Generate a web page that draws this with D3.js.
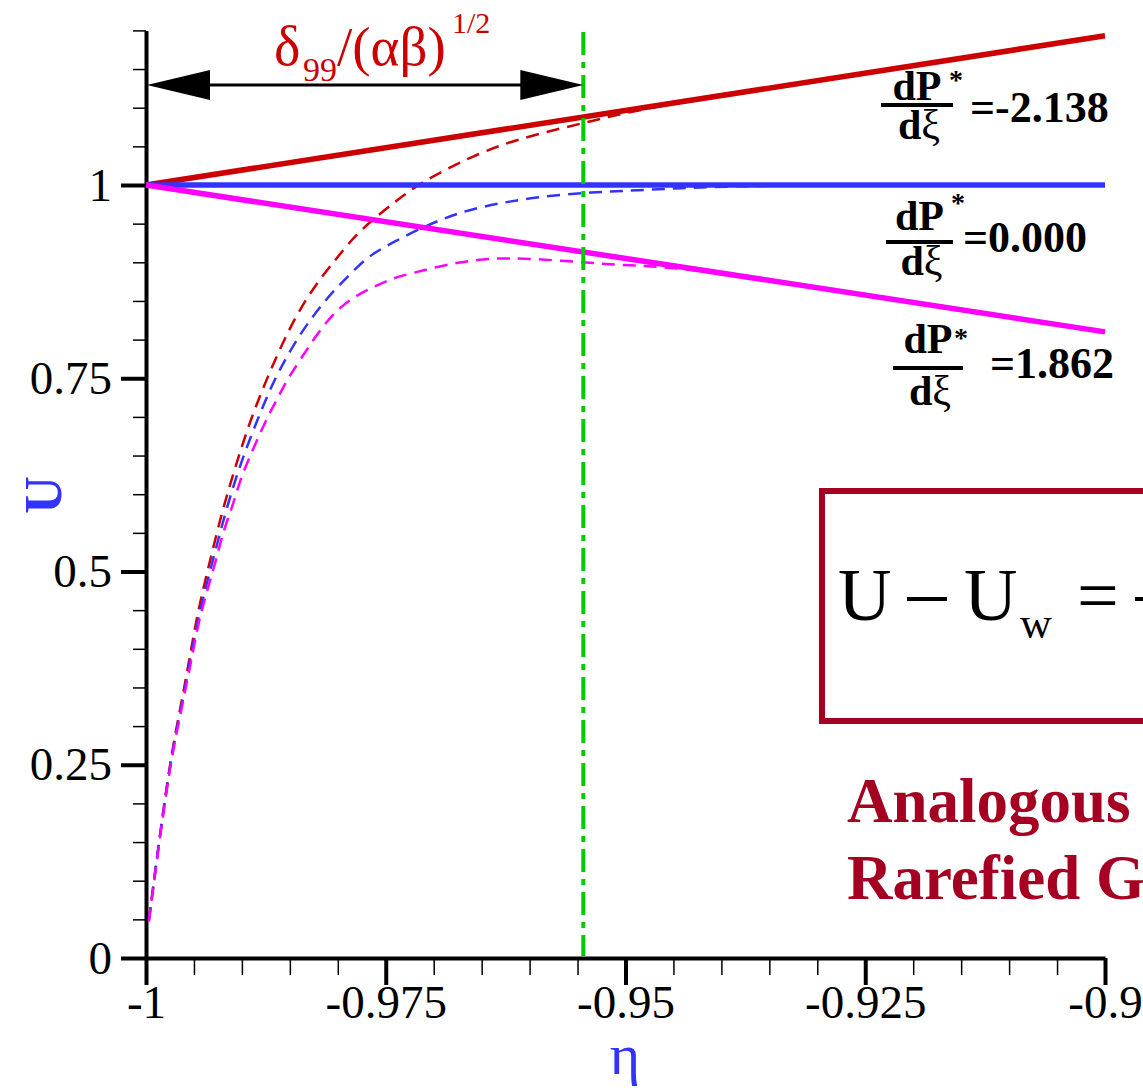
<!DOCTYPE html>
<html>
<head>
<meta charset="utf-8">
<script src="https://cdnjs.cloudflare.com/ajax/libs/d3/7.8.5/d3.min.js"></script>
<style>
  body { margin: 0; background: #fff; }
  svg { display: block; font-family: "Liberation Serif", "Times New Roman", serif; }
</style>
</head>
<body>
<script>
// Tick values and labels
const xMajorTicks = [-1, -0.975, -0.95, -0.925, -0.9];
const xTickLabels = ["-1", "-0.975", "-0.95", "-0.925", "-0.9"];
const yMajorTicks = [0, 0.25, 0.5, 0.75, 1];
const yTickLabels = ["0", "0.25", "0.5", "0.75", "1"];

// Outer (solid) lines, U at the two ends of eta
const etaEnds = [-1, -0.9];
const uOuterRed = [1, 1.193];
const uOuterBlue = [1, 1];
const uOuterMagenta = [1, 0.81];

// Boundary layer profiles (dashed)
const etaRed = [-0.9997, -0.9976, -0.9963, -0.9954, -0.9945, -0.9933, -0.9921, -0.9907, -0.9892, -0.9874,
  -0.9853, -0.9836, -0.9817, -0.98, -0.978, -0.9749, -0.9728, -0.9711, -0.9686, -0.9661,
  -0.963, -0.9589, -0.9544, -0.9506, -0.9443, -0.937, -0.92, -0.9];
const uRed = [0.049, 0.25, 0.33, 0.392, 0.454, 0.515, 0.576, 0.635, 0.693, 0.75,
  0.808, 0.847, 0.881, 0.907, 0.938, 0.97, 0.99, 1.004, 1.021, 1.036,
  1.052, 1.067, 1.08, 1.092, 1.107, 1.122, 1.1545, 1.193];

const etaBlue = [-0.9997, -0.9976, -0.9962, -0.9954, -0.9944, -0.9931, -0.9918, -0.9904, -0.9886, -0.9866,
  -0.9843, -0.9829, -0.9813, -0.9798, -0.978, -0.9763, -0.9742, -0.9717, -0.9693, -0.9673,
  -0.9649, -0.9624, -0.9589, -0.9544, -0.9506, -0.9443, -0.937, -0.9266, -0.9];
const uBlue = [0.049, 0.25, 0.33, 0.386, 0.45, 0.511, 0.573, 0.631, 0.69, 0.75,
  0.8, 0.825, 0.851, 0.871, 0.894, 0.912, 0.926, 0.942, 0.955, 0.964,
  0.972, 0.978, 0.985, 0.99, 0.992, 0.996, 0.999, 1, 1];

const etaMagenta = [-0.9997, -0.9976, -0.9963, -0.9957, -0.9952, -0.9947, -0.994, -0.9933, -0.9926, -0.9919,
  -0.991, -0.9902, -0.9892, -0.9881, -0.9872, -0.9862, -0.9852, -0.9839, -0.9824, -0.9805,
  -0.9784, -0.9763, -0.9742, -0.9722, -0.9697, -0.9673, -0.9649, -0.9624, -0.9589, -0.9544,
  -0.9506, -0.944, -0.935, -0.9];
const uMagenta = [0.047, 0.246, 0.321, 0.36, 0.389, 0.424, 0.459, 0.489, 0.519, 0.554,
  0.583, 0.618, 0.648, 0.679, 0.703, 0.726, 0.75, 0.774, 0.803, 0.834,
  0.855, 0.868, 0.88, 0.886, 0.894, 0.9, 0.904, 0.9056, 0.904, 0.9,
  0.8965, 0.893, 0.8765, 0.81];

// Boundary layer thickness (green line)
const etaDelta = -0.9544;
const gradLabels = ["=-2.138", "=0.000", "=1.862"];

const RED = "#cc0000", BLUE = "#3333ff", MAGENTA = "#ff00ff", GREEN = "#00cc00", BOX = "#a50021";
const SERIF = "Liberation Serif, Times New Roman, serif";

const svg = d3.select("body").append("svg")
  .attr("width", 1143)
  .attr("height", 1091);

const x = d3.scaleLinear().domain([-1, -0.9]).range([146, 1105]);
const y = d3.scaleLinear().domain([0, 1.2]).range([958, 30.4]);

// Minor ticks
svg.append("g")
  .attr("transform", `translate(0,${y(0)})`)
  .call(d3.axisBottom(x).tickValues(d3.range(21).map(i => -1 + i * 0.005)).tickSize(17).tickFormat(""))
  .call(g => g.select(".domain").remove())
  .selectAll("line").attr("stroke-width", 1.5);

svg.append("g")
  .attr("transform", `translate(${x(-1)},0)`)
  .call(d3.axisLeft(y).tickValues(d3.range(25).map(i => i * 0.05)).tickSize(13).tickFormat(""))
  .call(g => g.select(".domain").remove())
  .selectAll("line").attr("stroke-width", 1.5);

// Major axes
const xAxis = svg.append("g")
  .attr("transform", `translate(0,${y(0)})`)
  .call(d3.axisBottom(x).tickValues(xMajorTicks).tickSize(27).tickSizeOuter(0).tickPadding(0)
    .tickFormat((d, i) => xTickLabels[i]));
xAxis.attr("font-size", 47).attr("font-family", SERIF);
xAxis.select(".domain").attr("stroke-width", 4);
xAxis.selectAll(".tick line").attr("stroke-width", 4);

const yAxis = svg.append("g")
  .attr("transform", `translate(${x(-1)},0)`)
  .call(d3.axisLeft(y).tickValues(yMajorTicks).tickSize(25).tickSizeOuter(0).tickPadding(9)
    .tickFormat((d, i) => yTickLabels[i]));
yAxis.attr("font-size", 47).attr("font-family", SERIF);
yAxis.select(".domain").attr("stroke-width", 4);
yAxis.selectAll(".tick line").attr("stroke-width", 4);

// Axis titles
svg.append("text")
  .attr("transform", "translate(61,495) rotate(-90)")
  .attr("text-anchor", "middle")
  .attr("font-size", 52).attr("font-weight", "bold")
  .attr("fill", BLUE)
  .text("U");

svg.append("text")
  .attr("x", 625).attr("y", 1074)
  .attr("text-anchor", "middle")
  .attr("font-size", 58)
  .attr("fill", BLUE)
  .text("η");

// Lines
const line = d3.line()
  .x(d => x(d[0]))
  .y(d => y(d[1]))
  .curve(d3.curveBasis);

const dashed = [
  { eta: etaRed, u: uRed, color: RED },
  { eta: etaBlue, u: uBlue, color: BLUE },
  { eta: etaMagenta, u: uMagenta, color: MAGENTA }
];
dashed.forEach(s => {
  svg.append("path")
    .attr("d", line(s.eta.map((e, i) => [e, s.u[i]])))
    .attr("fill", "none")
    .attr("stroke", s.color)
    .attr("stroke-width", 2.5)
    .attr("stroke-dasharray", "13,8");
});

const solid = [
  { u: uOuterRed, color: RED },
  { u: uOuterBlue, color: BLUE },
  { u: uOuterMagenta, color: MAGENTA }
];
solid.forEach(s => {
  svg.append("path")
    .attr("d", d3.line().x(d => x(d[0])).y(d => y(d[1]))(etaEnds.map((e, i) => [e, s.u[i]])))
    .attr("fill", "none")
    .attr("stroke", s.color)
    .attr("stroke-width", 5.5);
});

// Boundary layer edge
svg.append("line")
  .attr("x1", x(etaDelta)).attr("x2", x(etaDelta))
  .attr("y1", 32).attr("y2", y(0) - 2)
  .attr("stroke", GREEN)
  .attr("stroke-width", 4)
  .attr("stroke-dasharray", "23,7,6,7");

// Double arrow
const ay = 85, ax1 = x(-1) + 1, ax2 = x(etaDelta);
svg.append("line")
  .attr("x1", ax1 + 20).attr("x2", ax2 - 20)
  .attr("y1", ay).attr("y2", ay)
  .attr("stroke", "#000").attr("stroke-width", 3);
svg.append("path")
  .attr("d", `M${ax1},${ay} L${ax1 + 63},${ay - 15} L${ax1 + 63},${ay + 15} Z`)
  .attr("fill", "#000");
svg.append("path")
  .attr("d", `M${ax2},${ay} L${ax2 - 63},${ay - 15} L${ax2 - 63},${ay + 15} Z`)
  .attr("fill", "#000");

// delta label
const dl = svg.append("g").attr("fill", RED);
dl.append("text").attr("x", 274).attr("y", 65).attr("font-size", 56).text("δ");
dl.append("text").attr("x", 303).attr("y", 81).attr("font-size", 34).text("99");
dl.append("text").attr("x", 337).attr("y", 65).attr("font-size", 55).text("/(αβ)");
dl.append("text").attr("x", 452).attr("y", 33).attr("font-size", 30).text("1/2");

// Pressure gradient labels
const fracs = [
  { x1: 881, x2: 953, barY: 105, numY: 100, denY: 139, starX: 956, starY: 75, valX: 970, valY: 122 },
  { x1: 886, x2: 953, barY: 242, numY: 230, denY: 275, starX: 958, starY: 198, valX: 963, valY: 252 },
  { x1: 893, x2: 963, barY: 368, numY: 353, denY: 405, starX: 961, starY: 333, valX: 990, valY: 378 }
];
fracs.forEach((f, i) => {
  const g = svg.append("g").attr("fill", "#000");
  const cx = (f.x1 + f.x2) / 2;
  g.append("text").attr("x", cx).attr("y", f.numY).attr("text-anchor", "middle")
    .attr("font-size", 42).attr("font-weight", "bold").text("dP");
  g.append("text").attr("x", f.starX).attr("y", f.starY + 14).attr("text-anchor", "middle")
    .attr("font-size", 28).attr("font-weight", "bold").text("*");
  g.append("rect").attr("x", f.x1).attr("y", f.barY - 2).attr("width", f.x2 - f.x1).attr("height", 4);
  const den = g.append("text").attr("x", cx + 2).attr("y", f.denY).attr("text-anchor", "middle")
    .attr("font-size", 42);
  den.append("tspan").attr("font-weight", "bold").text("d");
  den.append("tspan").text("ξ");
  g.append("text").attr("x", f.valX).attr("y", f.valY)
    .attr("font-size", 44).attr("font-weight", "bold").text(gradLabels[i]);
});

// Equation box
svg.append("rect")
  .attr("x", 822).attr("y", 491)
  .attr("width", 400).attr("height", 230)
  .attr("fill", "none")
  .attr("stroke", BOX).attr("stroke-width", 6);

const eq = svg.append("g").attr("fill", "#000").attr("font-size", 74);
eq.append("text").attr("x", 838).attr("y", 620).text("U");
eq.append("rect").attr("x", 907).attr("y", 597).attr("width", 40).attr("height", 4);
eq.append("text").attr("x", 964).attr("y", 620).text("U");
eq.append("text").attr("x", 1020).attr("y", 638).attr("font-size", 44).text("w");
eq.append("text").attr("x", 1077).attr("y", 620).text("=");
eq.append("rect").attr("x", 1135).attr("y", 597).attr("width", 40).attr("height", 4);

svg.append("text")
  .attr("x", 847).attr("y", 822)
  .attr("font-size", 63).attr("font-weight", "bold")
  .attr("fill", BOX)
  .text("Analogous to");
svg.append("text")
  .attr("x", 847).attr("y", 899)
  .attr("font-size", 63).attr("font-weight", "bold")
  .attr("fill", BOX)
  .text("Rarefied Gas");
</script>
</body>
</html>
